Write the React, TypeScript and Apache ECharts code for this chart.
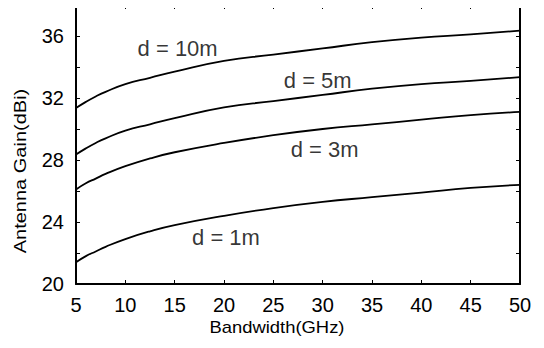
import React, { useEffect, useRef } from "react";
import * as echarts from "echarts";

const bandwidth = [5, 6, 7, 8, 10, 12.5, 15, 20, 25, 30, 35, 40, 45, 50];
const gain1m = [21.4, 21.8, 22.1, 22.4, 22.9, 23.4, 23.8, 24.4, 24.9, 25.3, 25.6, 25.9, 26.2, 26.4];
const gain3m = [26.1, 26.5, 26.8, 27.1, 27.6, 28.1, 28.5, 29.1, 29.6, 30.0, 30.3, 30.6, 30.9, 31.1];
const gain5m = [28.35, 28.75, 29.1, 29.4, 29.9, 30.3, 30.7, 31.4, 31.8, 32.2, 32.6, 32.9, 33.1, 33.35];
const gain10m = [31.35, 31.75, 32.1, 32.4, 32.9, 33.3, 33.7, 34.4, 34.8, 35.2, 35.6, 35.9, 36.1, 36.35];
const curveNames = ["d = 1m", "d = 3m", "d = 5m", "d = 10m"];
// label anchor positions in data coords [x, y]
const labelPos = [
  [20.2, 23.0],
  [30.2, 28.7],
  [29.5, 33.1],
  [15.3, 35.2],
];
const yLabels = [20, 24, 28, 32, 36];

const FONT = "'Liberation Sans', Arial, Helvetica, sans-serif";

export default function App() {
  const ref = useRef<HTMLDivElement>(null);
  useEffect(() => {
    if (!ref.current) return;
    const chart = echarts.init(ref.current, null, { renderer: "svg" });
    const all = [gain1m, gain3m, gain5m, gain10m];
    const mk = (vals: number[]) => bandwidth.map((b, i) => [b, vals[i]]);
    const axisCommon = {
      axisLine: { show: true, lineStyle: { color: "#000", width: 2 } },
      axisTick: { show: true, inside: true, length: 4, lineStyle: { color: "#000", width: 1 } },
      splitLine: { show: false },
    };
    chart.setOption({
      animation: false,
      backgroundColor: "#fff",
      grid: { left: 76, right: 24, top: 5, bottom: 64, containLabel: false },
      xAxis: [
        {
          type: "value",
          min: 5,
          max: 50,
          interval: 5,
          position: "bottom",
          ...axisCommon,
          axisLabel: { color: "#000", fontSize: 20, fontFamily: FONT, margin: 11 },
        },
        {
          type: "value",
          min: 5,
          max: 50,
          interval: 5,
          position: "top",
          ...axisCommon,
          axisLabel: { show: false },
        },
      ],
      yAxis: [
        {
          type: "value",
          min: 20,
          max: 38,
          interval: 2,
          position: "left",
          ...axisCommon,
          axisLabel: {
            color: "#000",
            fontSize: 20,
            fontFamily: FONT,
            margin: 12,
            formatter: (v: number) => (yLabels.includes(v) ? String(v) : ""),
          },
        },
        {
          type: "value",
          min: 20,
          max: 38,
          interval: 2,
          position: "right",
          ...axisCommon,
          axisLabel: { show: false },
        },
      ],
      series: [
        ...all.map((vals, i) => ({
          type: "line",
          name: curveNames[i],
          data: mk(vals),
          smooth: true,
          symbol: "none",
          lineStyle: { color: "#000", width: 1.8 },
        })),
        {
          type: "scatter",
          data: labelPos.map((p, i) => ({ value: p, name: curveNames[i] })),
          symbolSize: 0,
          label: {
            show: true,
            position: "inside",
            formatter: (p: any) => p.name,
            color: "#000",
            fontSize: 22,
            fontFamily: FONT,
          },
        },
      ],
      graphic: [
        {
          type: "text",
          x: 277,
          y: 327,
          scaleX: 1.15,
          style: {
            text: "Bandwidth(GHz)",
            fill: "#000",
            font: `16px ${FONT}`,
            align: "center",
            verticalAlign: "middle",
          },
        },
        {
          type: "text",
          x: 21,
          y: 171,
          rotation: Math.PI / 2,
          scaleX: 1.25,
          style: {
            text: "Antenna Gain(dBi)",
            fill: "#000",
            font: `16px ${FONT}`,
            align: "center",
            verticalAlign: "middle",
          },
        },
      ],
    });
    return () => chart.dispose();
  }, []);
  return <div ref={ref} style={{ width: 544, height: 348, margin: -8 }} />;
}
